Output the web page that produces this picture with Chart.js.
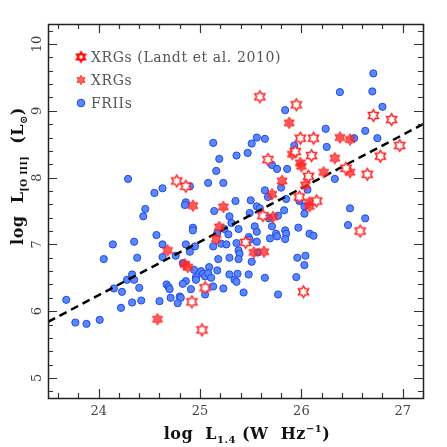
<!DOCTYPE html>
<html><head><meta charset="utf-8">
<script src="https://cdn.jsdelivr.net/npm/chart.js@4/dist/chart.umd.min.js"></script>
<style>html,body{margin:0;padding:0;background:#fff}canvas{display:block}</style>
</head><body>
<canvas id="c" width="447" height="447"></canvas>
<script>
const xTicks = [24, 25, 26, 27];
const yTicks = [5, 6, 7, 8, 9, 10];
const seriesLabels = ['XRGs (Landt et al. 2010)', 'XRGs', 'FRIIs'];

const friiX = [25.13,25.19,25.36,24.29,25.16,24.55,24.63,24.90,25.08,25.23,24.86,24.85,25.14,25.35,24.46,24.44,25.29,25.31,24.93,24.93,25.24,25.28,25.17,24.57,24.35,24.14,24.63,24.86,24.95,24.90,25.13,25.21,25.26,24.76,24.63,24.38,24.05,25.18,25.29,25.09,24.83,24.94,25.01,25.03,25.05,25.08,25.11,25.17,25.29,25.34,25.36,24.33,24.28,24.35,24.86,24.83,24.96,24.96,24.67,24.69,24.70,24.91,25.13,25.23,24.40,24.15,24.23,25.05,24.71,24.80,24.81,23.68,24.42,24.60,24.33,24.78,24.22,24.01,23.77,23.88,
26.71,26.38,26.70,25.84,26.80,26.24,26.63,25.56,25.64,25.51,26.52,26.75,25.93,26.25,25.47,25.71,25.76,25.86,26.33,25.64,25.80,25.50,25.67,26.06,25.98,25.85,26.03,25.56,25.59,25.49,25.83,26.03,25.77,25.68,26.48,26.63,26.46,25.38,25.54,25.56,25.71,25.97,25.84,25.85,25.84,25.75,25.76,25.69,26.08,26.12,25.48,25.49,25.56,25.36,25.38,25.39,25.38,25.57,25.51,26.04,25.96,26.03,25.37,25.48,25.64,25.95,25.43,25.77];
const friiY = [8.52,8.28,8.33,7.98,8.10,7.77,7.84,7.87,7.92,7.92,7.63,7.59,7.50,7.65,7.53,7.42,7.42,7.32,7.25,7.21,7.23,7.15,7.17,7.14,7.04,7.00,7.00,7.00,6.97,6.89,6.97,7.01,7.00,6.83,6.81,6.80,6.78,6.78,6.80,6.66,6.72,6.62,6.60,6.56,6.52,6.57,6.50,6.61,6.55,6.47,6.44,6.55,6.47,6.47,6.45,6.41,6.51,6.47,6.40,6.36,6.33,6.33,6.37,6.34,6.35,6.34,6.29,6.25,6.20,6.22,6.20,6.17,6.16,6.15,6.13,6.12,6.05,5.87,5.83,5.81,
9.56,9.28,9.29,9.01,9.06,8.73,8.70,8.60,8.58,8.51,8.59,8.59,8.48,8.46,8.37,8.19,8.13,8.13,7.98,7.81,7.85,7.66,7.71,7.82,7.65,7.68,7.57,7.57,7.54,7.47,7.51,7.46,7.43,7.39,7.54,7.39,7.29,7.23,7.27,7.19,7.27,7.25,7.21,7.16,7.08,7.16,7.12,7.09,7.16,7.13,7.11,7.07,7.04,7.02,6.91,6.86,6.78,6.88,6.74,6.83,6.80,6.69,6.56,6.55,6.50,6.51,6.28,6.25];

const xrgX = [24.93,25.23,25.19,25.16,24.68,24.85,24.88,24.58,25.88,26.38,26.48,25.91,26.33,25.99,26.00,26.48,26.22,25.81,25.71,26.04,26.08,26.08,25.72,25.53,25.63];
const xrgY = [7.58,7.56,7.26,7.08,6.91,6.70,6.66,5.88,8.82,8.60,8.57,8.35,8.29,8.22,8.17,8.08,8.08,7.95,7.75,7.89,7.63,7.57,7.41,6.88,6.89];

const landtX = [24.77,24.86,25.05,24.92,25.02,25.59,25.95,26.71,26.89,25.99,26.12,26.97,25.94,26.10,26.78,25.67,26.44,26.07,26.65,25.98,26.15,25.62,26.58,25.45,26.02];
const landtY = [7.95,7.87,6.35,6.14,5.72,9.21,9.09,8.93,8.87,8.59,8.59,8.48,8.39,8.33,8.32,8.27,8.14,8.02,8.05,7.71,7.65,7.43,7.20,7.03,6.29];

const fitX = [23.5, 27.2];
const fitY = [5.84, 8.80];

const pts = (xs, ys) => xs.map((x, i) => ({x: x, y: ys[i]}));

function starImg(R, fill, stroke, lw) {
  const s = Math.ceil(2 * R + lw + 3);
  const c = document.createElement('canvas');
  c.width = s; c.height = s;
  const g = c.getContext('2d');
  const cx = s / 2, cy = s / 2;
  g.beginPath();
  for (let k = 0; k < 12; k++) {
    const a = -Math.PI / 2 + k * Math.PI / 6;
    const r = (k % 2) ? R / Math.sqrt(3) : R;
    const px = cx + r * Math.cos(a), py = cy + r * Math.sin(a);
    if (k) g.lineTo(px, py); else g.moveTo(px, py);
  }
  g.closePath();
  g.fillStyle = fill; g.fill();
  g.lineWidth = lw; g.strokeStyle = stroke; g.lineJoin = 'miter'; g.stroke();
  return c;
}
const openStar = starImg(5.8, '#ffffff', '#ff2222', 1.5);
const fillStar = starImg(5.8, 'rgba(255,45,45,0.78)', 'rgba(255,30,30,0.95)', 1);
const legOpenStar = starImg(4.6, '#ffffff', '#ff0000', 2.2);
const legFillStar = starImg(4.6, 'rgba(255,60,60,0.8)', 'rgba(255,40,40,0.9)', 1);
const blueFill = 'rgb(88,136,255)', blueEdge = 'rgb(35,70,230)';

const SERIF = "'DejaVu Serif', serif";

function drawRich(ctx, parts, x, y) {
  let total = 0;
  parts.forEach(p => { ctx.font = p.f; total += ctx.measureText(p.t).width; });
  let cx = x - total / 2;
  parts.forEach(p => {
    ctx.font = p.f;
    ctx.fillText(p.t, cx, y + (p.dy || 0));
    cx += ctx.measureText(p.t).width;
  });
}

const framePlugin = {
  id: 'frame',
  afterDraw(chart) {
    const {ctx, chartArea: a, scales: {x, y}} = chart;
    ctx.save();
    ctx.strokeStyle = '#333';
    ctx.lineWidth = 1.2;
    const major = 9, minor = 5;
    const step = 0.2;
    ctx.beginPath();
    for (let i = Math.ceil(x.min / step - 1e-6); i * step <= x.max + 1e-6; i++) {
      const v = i * step;
      const isMaj = Math.abs(v - Math.round(v)) < 1e-6;
      const px = Math.round(x.getPixelForValue(v)) + 0.5;
      const L = isMaj ? major : minor;
      ctx.moveTo(px, a.bottom); ctx.lineTo(px, a.bottom - L);
      ctx.moveTo(px, a.top); ctx.lineTo(px, a.top + L);
    }
    for (let i = Math.ceil(y.min / step - 1e-6); i * step <= y.max + 1e-6; i++) {
      const v = i * step;
      const isMaj = Math.abs(v - Math.round(v)) < 1e-6;
      const py = Math.round(y.getPixelForValue(v)) + 0.5;
      const L = isMaj ? major : minor;
      ctx.moveTo(a.left, py); ctx.lineTo(a.left + L, py);
      ctx.moveTo(a.right, py); ctx.lineTo(a.right - L, py);
    }
    ctx.stroke();
    ctx.lineWidth = 1.5;
    ctx.strokeStyle = '#222';
    ctx.strokeRect(Math.round(a.left) + 0.5, Math.round(a.top) + 0.5, Math.round(a.width), Math.round(a.height));

    // legend
    const lx = a.left + 33, ly = a.top + 33, dyL = 23;
    ctx.drawImage(legOpenStar, lx - legOpenStar.width / 2, ly - legOpenStar.height / 2);
    ctx.drawImage(legFillStar, lx - legFillStar.width / 2, ly + dyL - legFillStar.height / 2);
    ctx.beginPath(); ctx.arc(lx, ly + 2 * dyL, 3.8, 0, 2 * Math.PI);
    ctx.fillStyle = blueFill; ctx.fill(); ctx.lineWidth = 1; ctx.strokeStyle = blueEdge; ctx.stroke();
    ctx.fillStyle = '#555';
    ctx.font = '14px ' + SERIF;
    ctx.textBaseline = 'middle';
    ctx.textAlign = 'left';
    try { ctx.letterSpacing = '0.6px'; } catch (e) {}
    seriesLabels.forEach((t, i) => ctx.fillText(t, lx + 10, ly + i * dyL + 1));
    try { ctx.letterSpacing = '0.5px'; } catch (e) {}

    // axis titles
    ctx.fillStyle = '#111';
    ctx.textBaseline = 'alphabetic';
    const B = 'bold 16px ' + SERIF, S = 'bold 10px ' + SERIF;
    drawRich(ctx, [
      {t: 'log  L', f: B}, {t: '1.4', f: S, dy: 4}, {t: ' (W  Hz', f: B}, {t: '\u22121', f: S, dy: -7}, {t: ')', f: B}
    ], 247, 439);
    ctx.save();
    ctx.translate(23, 176);
    ctx.rotate(-Math.PI / 2);
    drawRich(ctx, [
      {t: 'log  L', f: B}, {t: '[O III]', f: 'bold 9px ' + SERIF, dy: 4}, {t: '  (L', f: B}, {t: '\u2299', f: S, dy: 4}, {t: ')', f: B}
    ], 0, 0);
    ctx.restore();
    ctx.restore();
  }
};

new Chart(document.getElementById('c'), {
  type: 'scatter',
  data: {
    datasets: [
      {label: seriesLabels[0], data: pts(landtX, landtY), pointStyle: openStar, order: 0},
      {label: seriesLabels[1], data: pts(xrgX, xrgY), pointStyle: fillStar, order: 1},
      {type: 'line', label: 'fit', data: pts(fitX, fitY), borderColor: '#000', borderWidth: 2.5,
       borderDash: [8, 5], pointRadius: 0, fill: false, order: 2},
      {label: seriesLabels[2], data: pts(friiX, friiY), pointStyle: 'circle', pointRadius: 3.6,
       backgroundColor: blueFill, borderColor: blueEdge, borderWidth: 1, order: 3}
    ]
  },
  options: {
    responsive: false,
    animation: false,
    events: [],
    layout: {padding: {top: 24, right: 24, left: 0, bottom: 0}},
    plugins: {legend: {display: false}, tooltip: {enabled: false}},
    scales: {
      x: {
        type: 'linear', min: 23.5, max: 27.2,
        grid: {display: false, drawTicks: false},
        border: {display: false},
        afterBuildTicks: s => { s.ticks = xTicks.map(v => ({value: v})); },
        ticks: {font: {family: SERIF, size: 13}, color: '#444', padding: 6, maxRotation: 0, minRotation: 0},
        afterFit: s => { s.height = 49; }
      },
      y: {
        type: 'linear', min: 4.7, max: 10.3,
        grid: {display: false, drawTicks: false},
        border: {display: false},
        afterBuildTicks: s => { s.ticks = yTicks.map(v => ({value: v})); },
        ticks: {font: {family: SERIF, size: 13}, color: '#444', padding: 2, minRotation: 90, maxRotation: 90, crossAlign: 'center'},
        afterFit: s => { s.width = 48; }
      }
    }
  },
  plugins: [framePlugin]
});
</script>
</body></html>
